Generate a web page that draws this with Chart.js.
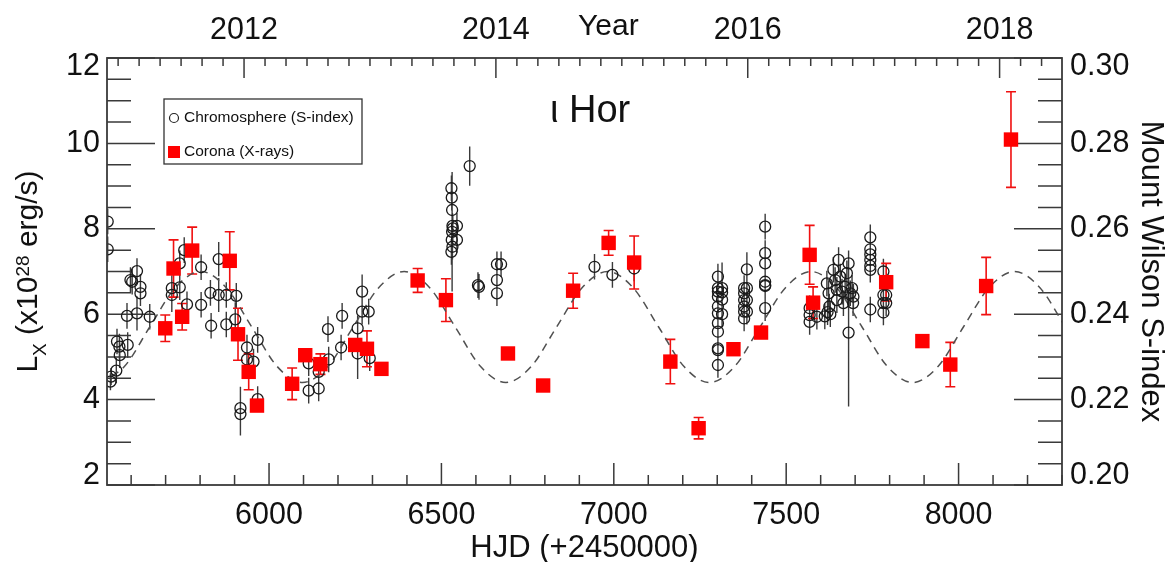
<!DOCTYPE html>
<html>
<head>
<meta charset="utf-8">
<script src="https://cdn.jsdelivr.net/npm/chart.js@4.4.1/dist/chart.umd.min.js"></script>
<style>html,body{margin:0;padding:0;background:#fff;}canvas{display:block;}</style>
</head>
<body>
<canvas id="c" width="1169" height="562"></canvas>
<script>
// ---------- axis ranges and tick labels ----------
const hjdRange = [5530, 8300];
const lxRange = [2, 12];
const sRange = [0.20, 0.30];
const hjdTicks = [6000, 6500, 7000, 7500, 8000];
const hjdTickLabels = ['6000', '6500', '7000', '7500', '8000'];
const lxTicks = [2, 4, 6, 8, 10, 12];
const lxTickLabels = ['2', '4', '6', '8', '10', '12'];
const sTicks = [0.20, 0.22, 0.24, 0.26, 0.28, 0.30];
const sTickLabels = ['0.20', '0.22', '0.24', '0.26', '0.28', '0.30'];
const yearTicks = [2012, 2014, 2016, 2018];
const yearTickLabels = ['2012', '2014', '2016', '2018'];
const yearRefHJD = 5927.5;   // HJD of 2012.0
const yearRef = 2012;
const daysPerYear = 365.25;

// ---------- Corona (X-rays), L_X in 1e28 erg/s ----------
const coronaHJD = [5699, 5723, 5748, 5777, 5886, 5910, 5941, 5965, 6067, 6105, 6149, 6250, 6284, 6326,
  6431, 6513, 6693, 6795, 6882, 6985, 7059, 7164, 7246, 7347, 7427, 7568, 7578, 7790, 7895, 7976, 8080, 8152];
const coronaLx = [5.67, 7.07, 5.94, 7.49, 7.25, 5.53, 4.65, 3.86, 4.37, 5.04, 4.83, 5.28, 5.19, 4.72,
  6.79, 6.33, 5.08, 4.33, 6.55, 7.67, 7.21, 4.89, 3.33, 5.18, 5.57, 7.39, 6.27, 6.75, 5.37, 4.82, 6.66, 10.09];
const coronaErr = [0.31, 0.67, 0.31, 0.55, 0.68, 0.61, 0.42, 0.0, 0.37, 0.10, 0.24, 0.08, 0.42, 0.0,
  0.28, 0.50, 0.10, 0.0, 0.41, 0.29, 0.62, 0.52, 0.25, 0.08, 0.08, 0.69, 0.37, 0.44, 0.08, 0.52, 0.67, 1.12];

// ---------- Chromosphere (Mount Wilson S-index) ----------
const chromoHJD = [
  5532, 5532, 5540, 5542, 5557, 5559, 5566, 5567, 5590, 5588, 5598, 5603, 5617, 5627, 5627, 5617, 5654,
  5718, 5718, 5741, 5741, 5754, 5762, 5803, 5803, 5832, 5830, 5854, 5854, 5876, 5876, 5905, 5902,
  5936, 5936, 5955, 5967, 5917, 5917, 5967,
  6115, 6115, 6144, 6144, 6173, 6171, 6212, 6209, 6257, 6257, 6270, 6270, 6289, 6292,
  6529, 6530, 6531, 6532, 6533, 6531, 6530, 6532, 6529, 6545, 6545, 6582, 6606, 6609,
  6661, 6673, 6661, 6661, 6944, 6996, 7059,
  7302, 7302, 7302, 7302, 7302, 7302, 7302, 7302, 7302, 7302, 7302,
  7314, 7314, 7314, 7314,
  7378, 7378, 7378, 7378, 7378, 7378,
  7386, 7386, 7386, 7386,
  7439, 7439, 7439, 7439, 7439, 7439, 7439,
  7568, 7568, 7568, 7589,
  7612, 7618, 7620, 7623, 7625, 7628, 7637, 7642, 7647, 7647, 7652, 7657, 7662, 7666, 7671, 7676,
  7681, 7686, 7691, 7694, 7695, 7681,
  7744, 7744, 7744, 7744, 7744, 7744, 7744,
  7782, 7782, 7782, 7782, 7790, 7790];
const chromoS = [
  0.2617, 0.2552, 0.2242, 0.2254, 0.2268, 0.2336, 0.2324, 0.2304, 0.2328, 0.2396, 0.2480, 0.2476, 0.2501, 0.2464, 0.2449, 0.2402, 0.2394,
  0.2461, 0.2445, 0.2463, 0.2519, 0.2550, 0.2423, 0.2510, 0.2422, 0.2373, 0.2450, 0.2529, 0.2445, 0.2445, 0.2376, 0.2443, 0.2388,
  0.2322, 0.2294, 0.2289, 0.2340, 0.2180, 0.2166, 0.2201,
  0.2285, 0.2221, 0.2226, 0.2265, 0.2294, 0.2365, 0.2396, 0.2322, 0.2367, 0.2308, 0.2453, 0.2406, 0.2406, 0.2297,
  0.2695, 0.2673, 0.2644, 0.2607, 0.2601, 0.2593, 0.2574, 0.2558, 0.2546, 0.2607, 0.2574, 0.2747, 0.2468, 0.2464,
  0.2517, 0.2517, 0.2480, 0.2449, 0.2511, 0.2492, 0.2507,
  0.2488, 0.2461, 0.2453, 0.2441, 0.2418, 0.2402, 0.2379, 0.2359, 0.2320, 0.2316, 0.2281,
  0.2461, 0.2451, 0.2434, 0.2400,
  0.2461, 0.2449, 0.2433, 0.2418, 0.2406, 0.2390,
  0.2505, 0.2461, 0.2433, 0.2406,
  0.2605, 0.2543, 0.2519, 0.2476, 0.2468, 0.2466, 0.2414,
  0.2414, 0.2398, 0.2382, 0.2394,
  0.2395, 0.2472, 0.2405, 0.2449, 0.2418, 0.2400, 0.2504, 0.2480, 0.2457, 0.2433, 0.2527, 0.2488, 0.2453, 0.2426, 0.2464, 0.2496,
  0.2519, 0.2449, 0.2461, 0.2426, 0.2441, 0.2357,
  0.2580, 0.2552, 0.2540, 0.2527, 0.2513, 0.2504, 0.2411,
  0.2500, 0.2445, 0.2426, 0.2404, 0.2426, 0.2445];
const chromoErr = [
  0.003, 0.003, 0.002, 0.002, 0.003, 0.003, 0.003, 0.003, 0.003, 0.003, 0.003, 0.003, 0.003, 0.003, 0.003, 0.004, 0.003,
  0.003, 0.004, 0.003, 0.003, 0.003, 0.003, 0.003, 0.003, 0.003, 0.003, 0.004, 0.004, 0.003, 0.003, 0.003, 0.004,
  0.003, 0.003, 0.003, 0.003, 0.005, 0.005, 0.003,
  0.003, 0.003, 0.003, 0.003, 0.003, 0.003, 0.003, 0.003, 0.003, 0.006, 0.004, 0.003, 0.003, 0.003,
  0.003, 0.003, 0.003, 0.003, 0.003, 0.014, 0.003, 0.003, 0.003, 0.003, 0.003, 0.0046, 0.003, 0.003,
  0.003, 0.003, 0.003, 0.003, 0.003, 0.003, 0.003,
  0.003, 0.003, 0.003, 0.003, 0.003, 0.003, 0.003, 0.003, 0.003, 0.003, 0.003,
  0.003, 0.007, 0.003, 0.003,
  0.003, 0.003, 0.003, 0.003, 0.003, 0.003,
  0.004, 0.003, 0.003, 0.003,
  0.003, 0.003, 0.003, 0.003, 0.003, 0.003, 0.003,
  0.003, 0.003, 0.003, 0.003,
  0.003, 0.003, 0.003, 0.003, 0.003, 0.003, 0.003, 0.003, 0.003, 0.003, 0.003, 0.003, 0.003, 0.003, 0.003, 0.003,
  0.003, 0.003, 0.003, 0.003, 0.003, 0.0173,
  0.003, 0.003, 0.003, 0.003, 0.003, 0.003, 0.003,
  0.003, 0.003, 0.003, 0.003, 0.003, 0.003];

// ---------- Activity-cycle fit (dashed) ----------
const cycleHJD = [5507, 5581, 5654, 5728, 5802, 5876, 5950, 6023, 6097, 6171, 6244, 6318, 6392, 6466, 6540, 6613,
  6687, 6761, 6834, 6908, 6982, 7056, 7130, 7203, 7277, 7351, 7424, 7498, 7572, 7646, 7720, 7793,
  7867, 7941, 8014, 8088, 8162, 8236, 8310];
const cycleS = [0.224, 0.2278, 0.237, 0.2462, 0.250, 0.2462, 0.237, 0.2278, 0.224, 0.2278, 0.237, 0.2462, 0.250, 0.2462, 0.237, 0.2278,
  0.224, 0.2278, 0.237, 0.2462, 0.250, 0.2462, 0.237, 0.2278, 0.224, 0.2278, 0.237, 0.2462, 0.250, 0.2462, 0.237, 0.2278,
  0.224, 0.2278, 0.237, 0.2462, 0.250, 0.2462, 0.237];

// ---------- styling ----------
const FONT = "'Liberation Sans', Arial, Helvetica, sans-serif";
const TXT = '#111111';
const AX = '#3a3a3a';
const RED = '#ff0000';
const yearMin = yearRef + (hjdRange[0] - yearRefHJD) / daysPerYear;
const yearMax = yearRef + (hjdRange[1] - yearRefHJD) / daysPerYear;

function pick(ticks, labels, v) {
  const i = ticks.findIndex(t => Math.abs(t - v) < 1e-9);
  return i < 0 ? '' : labels[i];
}
function yLabel(ticks, labels) {
  return function (v) {
    const s = pick(ticks, labels, v);
    if (Math.abs(v - ticks[ticks.length - 1]) < 1e-9) return ['', s];
    if (Math.abs(v - ticks[0]) < 1e-9) return [s, ''];
    return s;
  };
}

const decorations = {
  id: 'decorations',
  beforeDatasetsDraw(chart) {
    const { ctx, chartArea: a, scales } = chart;
    const xs = scales.x, yl = scales.y, yr = scales.yS;
    ctx.save();
    // ticks (inward)
    ctx.strokeStyle = AX; ctx.lineWidth = 1.5; ctx.beginPath();
    for (let k = 4; k <= 24; k++) {
      const p = yl.getPixelForValue(k / 2), len = (k % 4 === 0) ? 48 : 24;
      ctx.moveTo(a.left, p); ctx.lineTo(a.left + len, p);
    }
    for (let k = 40; k <= 60; k++) {
      const p = yr.getPixelForValue(k / 200), len = (k % 4 === 0) ? 48 : 24;
      ctx.moveTo(a.right, p); ctx.lineTo(a.right - len, p);
    }
    for (let v = Math.ceil(hjdRange[0] / 100) * 100; v <= hjdRange[1]; v += 100) {
      const p = xs.getPixelForValue(v), len = (v % 500 === 0) ? 22 : 10;
      ctx.moveTo(p, a.bottom); ctx.lineTo(p, a.bottom - len);
    }
    const xt = scales.xTop;
    for (let k = Math.ceil(yearMin * 6); k <= Math.floor(yearMax * 6); k++) {
      const p = xt.getPixelForValue(k / 6), len = (k % 12 === 0) ? 20 : 8;
      ctx.moveTo(p, a.top); ctx.lineTo(p, a.top + len);
    }
    ctx.stroke();
    // error bars
    ctx.beginPath(); ctx.rect(a.left, a.top, a.right - a.left, a.bottom - a.top); ctx.clip();
    ctx.strokeStyle = '#3a3a3a'; ctx.lineWidth = 1.4; ctx.beginPath();
    chromoHJD.forEach((h, i) => {
      const px = xs.getPixelForValue(h);
      ctx.moveTo(px, yr.getPixelForValue(chromoS[i] - chromoErr[i]));
      ctx.lineTo(px, yr.getPixelForValue(chromoS[i] + chromoErr[i]));
    });
    ctx.stroke();
    ctx.strokeStyle = '#f01010'; ctx.lineWidth = 1.6; ctx.beginPath();
    coronaHJD.forEach((h, i) => {
      if (!coronaErr[i]) return;
      const px = xs.getPixelForValue(h);
      const y1 = yl.getPixelForValue(coronaLx[i] - coronaErr[i]);
      const y2 = yl.getPixelForValue(coronaLx[i] + coronaErr[i]);
      ctx.moveTo(px, y1); ctx.lineTo(px, y2);
      ctx.moveTo(px - 5, y1); ctx.lineTo(px + 5, y1);
      ctx.moveTo(px - 5, y2); ctx.lineTo(px + 5, y2);
    });
    ctx.stroke();
    ctx.restore();
  },
  afterDraw(chart) {
    const { ctx, chartArea: a } = chart;
    ctx.save();
    // frame
    ctx.strokeStyle = AX; ctx.lineWidth = 1.8;
    ctx.strokeRect(a.left, a.top, a.right - a.left, a.bottom - a.top);
    ctx.fillStyle = TXT;
    // top title
    ctx.font = '30px ' + FONT; ctx.textBaseline = 'alphabetic'; ctx.textAlign = 'left';
    ctx.fillText('Year', 578, 35);
    // bottom title
    ctx.font = '31px ' + FONT; ctx.textAlign = 'center';
    ctx.fillText('HJD (+2450000)', (a.left + a.right) / 2, 557);
    // star name
    ctx.font = '38px ' + FONT; ctx.textAlign = 'left';
    ctx.fillText('\u03b9 Hor', 550, 122);
    // right title
    ctx.save();
    ctx.translate(1142, (a.top + a.bottom) / 2); ctx.rotate(Math.PI / 2);
    ctx.font = '31px ' + FONT; ctx.textAlign = 'center';
    ctx.fillText('Mount Wilson S-index', 0, 0);
    ctx.restore();
    // left title with sub/superscript
    ctx.save();
    ctx.translate(37, (a.top + a.bottom) / 2); ctx.rotate(-Math.PI / 2);
    const parts = [
      { t: 'L', s: 30, dy: 0 }, { t: 'X', s: 19, dy: 9 }, { t: ' (x10', s: 30, dy: 0 },
      { t: '28', s: 19, dy: -8 }, { t: ' erg/s)', s: 30, dy: 0 }];
    let total = 0;
    parts.forEach(p => { ctx.font = p.s + 'px ' + FONT; p.w = ctx.measureText(p.t).width; total += p.w; });
    let x = -total / 2; ctx.textAlign = 'left';
    parts.forEach(p => { ctx.font = p.s + 'px ' + FONT; ctx.fillText(p.t, x, p.dy); x += p.w; });
    ctx.restore();
    // legend
    ctx.fillStyle = '#fff';
    ctx.fillRect(164, 99, 198, 65);
    ctx.strokeStyle = '#333'; ctx.lineWidth = 1.3;
    ctx.strokeRect(164, 99, 198, 65);
    ctx.beginPath(); ctx.arc(174, 118, 4.5, 0, Math.PI * 2); ctx.lineWidth = 1.2; ctx.strokeStyle = '#222'; ctx.stroke();
    ctx.fillStyle = RED; ctx.fillRect(168, 146, 12, 12);
    ctx.fillStyle = TXT; ctx.font = '15.5px ' + FONT; ctx.textBaseline = 'middle';
    ctx.fillText('Chromosphere (S-index)', 184, 118);
    ctx.fillText('Corona (X-rays)', 184, 152);
    ctx.restore();
  }
};

const tickFont = { family: FONT, size: 30.5 };
const yTickFont = { family: FONT, size: 30.5, lineHeight: '18px' };

new Chart(document.getElementById('c'), {
  type: 'scatter',
  data: {
    datasets: [
      {
        label: 'Corona (X-rays)', order: 0, xAxisID: 'x', yAxisID: 'y',
        data: coronaHJD.map((h, i) => ({ x: h, y: coronaLx[i] })),
        pointStyle: 'rect', pointRadius: 10.2, pointBorderWidth: 0,
        backgroundColor: RED, borderColor: RED, clip: 0
      },
      {
        label: 'Chromosphere (S-index)', order: 1, xAxisID: 'x', yAxisID: 'yS',
        data: chromoHJD.map((h, i) => ({ x: h, y: chromoS[i] })),
        pointStyle: 'circle', pointRadius: 5.5, pointBorderWidth: 1.3,
        borderColor: '#1a1a1a', backgroundColor: 'rgba(0,0,0,0)', clip: 0
      },
      {
        label: 'cycle', order: 2, xAxisID: 'x', yAxisID: 'yS',
        data: cycleHJD.map((h, i) => ({ x: h, y: cycleS[i] })),
        showLine: true, pointRadius: 0, borderColor: '#505050', borderWidth: 1.5,
        borderDash: [8, 6], cubicInterpolationMode: 'monotone', clip: 0
      }
    ]
  },
  options: {
    responsive: false, animation: false, devicePixelRatio: 1, events: [],
    layout: { padding: 0 },
    plugins: { legend: { display: false }, tooltip: { enabled: false }, title: { display: false } },
    scales: {
      x: {
        type: 'linear', position: 'bottom', min: hjdRange[0], max: hjdRange[1],
        grid: { display: false, drawTicks: false }, border: { display: false },
        afterBuildTicks: s => { s.ticks = hjdTicks.map(v => ({ value: v })); },
        afterFit: s => { s.height = 77; },
        ticks: { font: tickFont, color: TXT, padding: 12, maxRotation: 0, autoSkip: false,
          callback: v => pick(hjdTicks, hjdTickLabels, v) }
      },
      xTop: {
        type: 'linear', position: 'top', min: yearMin, max: yearMax,
        grid: { display: false, drawTicks: false }, border: { display: false },
        afterBuildTicks: s => { s.ticks = yearTicks.map(v => ({ value: v })); },
        afterFit: s => { s.height = 58; },
        ticks: { font: tickFont, color: TXT, padding: 9, maxRotation: 0, autoSkip: false,
          callback: v => pick(yearTicks, yearTickLabels, v) }
      },
      y: {
        type: 'linear', position: 'left', min: lxRange[0], max: lxRange[1],
        grid: { display: false, drawTicks: false }, border: { display: false },
        afterBuildTicks: s => { s.ticks = lxTicks.map(v => ({ value: v })); },
        afterFit: s => { s.width = 107; },
        ticks: { font: yTickFont, color: TXT, padding: 7, autoSkip: false,
          callback: yLabel(lxTicks, lxTickLabels) }
      },
      yS: {
        type: 'linear', position: 'right', min: sRange[0], max: sRange[1],
        grid: { display: false, drawTicks: false }, border: { display: false },
        afterBuildTicks: s => { s.ticks = sTicks.map(v => ({ value: v })); },
        afterFit: s => { s.width = 107; },
        ticks: { font: yTickFont, color: TXT, padding: 8, autoSkip: false,
          callback: yLabel(sTicks, sTickLabels) }
      }
    }
  },
  plugins: [decorations]
});
</script>
</body>
</html>
